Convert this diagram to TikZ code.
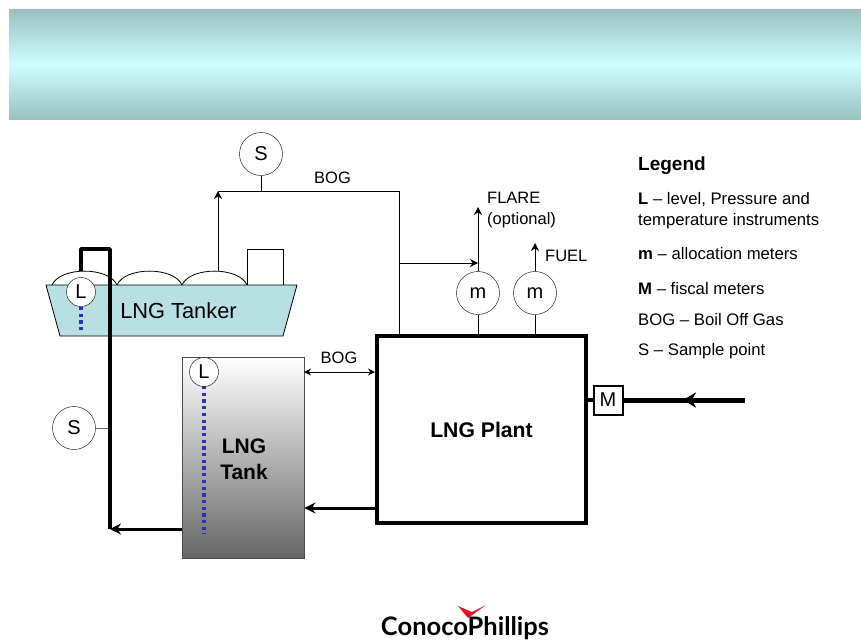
\documentclass[tikz,border=0pt]{standalone}
\usepackage{fontspec}
\setmainfont{Liberation Sans}
\newfontfamily\logofont{Lato}
\usepackage{xcolor}
\usetikzlibrary{arrows.meta, positioning}
\definecolor{HullBlue}{HTML}{b8dfe2}
\definecolor{BandEdge}{HTML}{9cc0c0}
\definecolor{BandMid}{HTML}{ccffff}
\definecolor{TankGray}{HTML}{666666}
\definecolor{ProbeBlue}{HTML}{3333a8}
\definecolor{LogoRed}{HTML}{e8102a}
\newcommand{\fs}[1]{\fontsize{#1}{#1}\selectfont}

\begin{document}
\begin{tikzpicture}[
    x=1pt, y=-1pt,
    instr/.style={circle, draw, fill=white, minimum size=43pt, inner sep=0pt, font=\fs{20}},
    probe/.style={circle, draw, fill=white, minimum size=29pt, inner sep=0pt, font=\fs{20}},
    meter/.style={rectangle, draw, line width=2pt, fill=white, minimum size=29pt, inner sep=0pt, font=\fs{20}},
    thin line/.style={line width=1pt},
    thin arrow/.style={-{Stealth[length=8pt,width=8pt]}, line width=1pt},
    heavy line/.style={line width=3.5pt},
    heavy arrow/.style={-{Stealth[length=11pt,width=11pt]}, line width=3pt},
    dome/.style={draw, fill=white, line width=0.8pt},
    dots/.style={ProbeBlue, line width=3.4pt, dash pattern=on 3.3pt off 3.4pt},
    tag/.style={font=\fs{16.5}, inner sep=0pt},
    legend/.style={font=\fs{16.7}, inner sep=0pt, anchor=north west, align=left}
]
\useasboundingbox (0,0) rectangle (861,642);

% title band
\path[top color=BandEdge, bottom color=BandMid] (9,10) rectangle (861,64.5);
\path[top color=BandMid, bottom color=BandEdge] (9,64.5) rectangle (861,119);

% tanker
\draw[dome] (52,285) .. controls (60,266.5) and (109,266.5) .. (117,285);
\draw[dome] (117,285) .. controls (125,266.5) and (174,266.5) .. (182,285);
\draw[dome] (182,285) .. controls (190,266.5) and (239,266.5) .. (247,285);
\node[draw, line width=0.8pt, fill=white, minimum width=36pt, minimum height=36pt, inner sep=0pt] (bridge) at (265,267) {};
\draw[fill=HullBlue, line width=0.8pt] (46,285) -- (297,285) -- (283,336) -- (60,336) -- cycle;
\node[font=\fs{21.8}, inner sep=0pt] (tanker) at (178.5,311) {LNG Tanker};

% tank and plant
\node[draw=black!70, line width=0.8pt, top color=white, bottom color=TankGray, minimum width=122pt, minimum height=201pt, inner sep=0pt] (tank) at (243,457.5) {};
\node[font=\bfseries\fs{21}, align=center, inner sep=0pt] (tanklbl) at (244,459) {LNG\\[5pt]Tank};
\node[draw, line width=3.5pt, minimum width=209pt, minimum height=187pt, inner sep=0pt, font=\bfseries\fs{21.2}] (plant) at (481.5,429.5) {LNG Plant};

% instruments
\node[instr] (s1) at (261,154) {S};
\node[instr] (s2) at (74,428) {S};
\node[instr] (m1) at (478,293) {m};
\node[instr] (m2) at (535,293) {m};
\node[meter] (fm) at (608,400) {M};

% free ends
\coordinate (domeTop) at (218,271);
\coordinate (corner1) at (218,191);
\coordinate (corner2) at (399,191);
\coordinate (drop) at (399,336);
\coordinate (branch) at (399,263);
\coordinate (flareEnd) at (478,207);
\coordinate (fuelEnd) at (535,243);
\coordinate (feedEnd) at (745,400);
\coordinate (feedMid) at (683,400);
\coordinate (pipeA) at (81,271);
\coordinate (pipeB) at (81,249);
\coordinate (pipeC) at (110,249);
\coordinate (pipeD) at (110,529);
\coordinate (pipeS) at (110,428);

% thin connectors
\draw[thin arrow] (domeTop) -- (corner1);
\draw[thin line] (corner1) -- (corner2) -- (drop);
\draw[thin line] (s1) -- (261,191);
\draw[thin arrow] (branch) -- (m1.north |- branch);
\draw[thin arrow] (m1) -- (flareEnd);
\draw[thin arrow] (m2) -- (fuelEnd);
\draw[thin line] (m1) -- (m1 |- plant.north);
\draw[thin line] (m2) -- (m2 |- plant.north);
\draw[black!60, thin line] (s2) -- (pipeS);
\draw[{Stealth[length=7pt,width=7pt]}-{Stealth[length=7pt,width=7pt]}, thin line] (304,372) -- (375,372);

% heavy connectors
\draw[heavy line, line join=round] (pipeA) -- (pipeB) -- (pipeC) -- (pipeD);
\draw[heavy arrow] (tank.west |- pipeD) -- (pipeD);
\draw[heavy arrow] (plant.west |- 0,508) -- (tank.east |- 0,508);
\draw[heavy line] (plant.east |- fm) -- (fm);
\draw[line width=5pt] (fm) -- (feedEnd);
\draw[-{Stealth[length=13pt,width=15pt]}, line width=5pt] (feedEnd) -- (feedMid);

% level gauges
\draw[dots] (81,307) -- (81,333);
\draw[dots] (204,386) -- (204,534);
\node[probe] (l1) at (81,292) {L};
\node[probe] (l2) at (204,372) {L};

% labels
\node[tag] (bogtop) at (332.5,178) {BOG};
\node[tag] (bogmid) at (339,358) {BOG};
\node[tag, anchor=north west, align=left] (flare) at (487,192) {FLARE\\[4.5pt](optional)};
\node[tag, anchor=west] (fuel) at (545,256) {FUEL};

% legend
\node[legend, font=\bfseries\fs{19}] (leg0) at (638,157) {Legend};
\node[legend] (leg1) at (638,192) {\textbf{L} -- level, Pressure and\\[4.5pt]temperature instruments};
\node[legend] (leg2) at (638,247) {\textbf{m} -- allocation meters};
\node[legend] (leg3) at (638,282) {\textbf{M} -- fiscal meters};
\node[legend] (leg4) at (638,313) {BOG -- Boil Off Gas};
\node[legend] (leg5) at (638,343) {S -- Sample point};

% logo
\fill[LogoRed] (458,606) -- (472,612) -- (486,605) -- (468,618) -- cycle;
\node[font=\logofont\bfseries\fs{25.5}, inner sep=0pt] (logo) at (465,628) {ConocoPhillips};
\end{tikzpicture}
\end{document}
